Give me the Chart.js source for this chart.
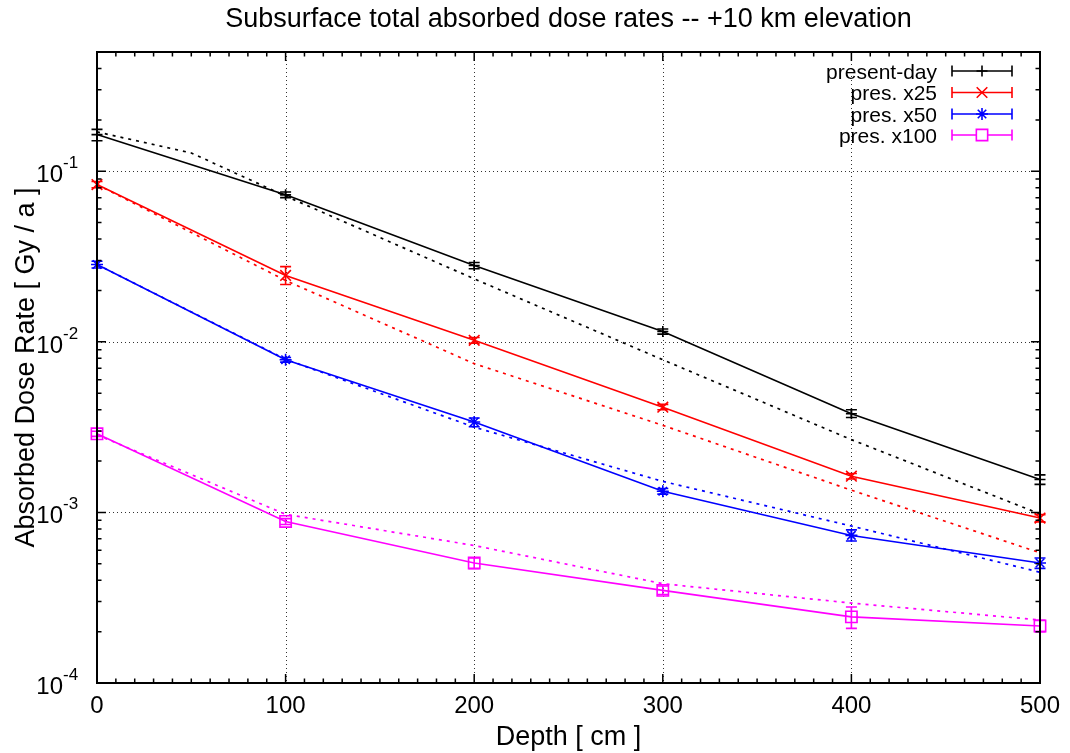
<!DOCTYPE html>
<html><head><meta charset="utf-8">
<script src="https://cdn.jsdelivr.net/npm/chart.js@4/dist/chart.umd.min.js"></script>
<style>html,body{margin:0;padding:0;background:#fff}#wrap{width:1070px;height:753px;position:relative}</style>
</head><body><div id="wrap"><canvas id="c" width="1070" height="753"></canvas></div>
<script>
// ---- data ----
const depths = [0, 100, 200, 300, 400, 500];
const seriesNames = ['present-day', 'pres. x25', 'pres. x50', 'pres. x100'];

const presentDay      = [0.164, 0.0727, 0.0280, 0.0115, 0.00379, 0.00156];
const presentDayLow   = [0.151, 0.0700, 0.0268, 0.0111, 0.00360, 0.00146];
const presentDayHigh  = [0.176, 0.0755, 0.0292, 0.0119, 0.00400, 0.00166];

const pres25      = [0.0836, 0.0245, 0.0102, 0.00414, 0.00163, 0.000927];
const pres25Low   = [0.0800, 0.0217, 0.0098, 0.00400, 0.00157, 0.000880];
const pres25High  = [0.0870, 0.0276, 0.0106, 0.00430, 0.00169, 0.000970];

const pres50      = [0.0284, 0.00785, 0.00339, 0.00133, 0.000733, 0.000505];
const pres50Low   = [0.0271, 0.00760, 0.00318, 0.00128, 0.000680, 0.000470];
const pres50High  = [0.0297, 0.00810, 0.00358, 0.00138, 0.000790, 0.000540];

const pres100     = [0.00289, 0.000885, 0.000505, 0.000349, 0.000244, 0.000216];
const pres100Low  = [0.00279, 0.000850, 0.000470, 0.000330, 0.000209, 0.000200];
const pres100High = [0.00299, 0.000920, 0.000540, 0.000370, 0.000279, 0.000233];

// dotted comparison curves (no legend entry)
const presentDayAltDepths = [0, 50, 100, 200, 300, 400, 500];
const presentDayAlt = [0.170, 0.128, 0.0715, 0.0234, 0.00785, 0.00267, 0.00098];
const pres25Alt  = [0.0836, 0.0229, 0.00745, 0.00324, 0.00135, 0.00058];
const pres50Alt  = [0.0284, 0.0079, 0.00316, 0.00152, 0.000832, 0.000446];
const pres100Alt = [0.00285, 0.000975, 0.00064, 0.000382, 0.000294, 0.000234];

const xMajorTicks = [0, 100, 200, 300, 400, 500];
const yMajorTicks = [1e-4, 1e-3, 1e-2, 1e-1];
const yTickExponents = ['-4', '-3', '-2', '-1'];

// ---- styling ----
const colors = ['#000000', '#ff0000', '#0000ff', '#ff00ff'];
const styles = ['cross', 'crossRot', 'star', 'rect'];
const radii = [5.5, 7.5, 6, 8];
const mains = [presentDay, pres25, pres50, pres100];
const lows = [presentDayLow, pres25Low, pres50Low, pres100Low];
const highs = [presentDayHigh, pres25High, pres50High, pres100High];

function pts(xs, ys) { return xs.map((x, i) => ({ x: x, y: ys[i] })); }

const datasets = [];
const alts = [[presentDayAltDepths, presentDayAlt], [depths, pres25Alt], [depths, pres50Alt], [depths, pres100Alt]];
alts.forEach((a, i) => {
  datasets.push({
    label: seriesNames[i] + ' (alt)', data: pts(a[0], a[1]),
    borderColor: colors[i], borderWidth: 1.7, borderDash: [3, 5],
    pointRadius: 0, fill: false, tension: 0, clip: false
  });
});
mains.forEach((m, i) => {
  datasets.push({
    label: seriesNames[i], data: pts(depths, m),
    borderColor: colors[i], backgroundColor: 'rgba(0,0,0,0)', borderWidth: 1.6,
    pointStyle: styles[i], pointRadius: radii[i], pointBorderColor: colors[i],
    pointBorderWidth: 1.6, pointBackgroundColor: 'rgba(0,0,0,0)',
    fill: false, tension: 0, clip: false, errLow: lows[i], errHigh: highs[i]
  });
});

const FONT = '"Liberation Sans", Arial, Helvetica, sans-serif';

const frame = {
  id: 'frame',
  beforeDatasetsDraw(chart) {
    const { ctx, chartArea: a, scales: { x, y } } = chart;
    ctx.save();
    ctx.strokeStyle = '#333';
    ctx.lineWidth = 1;
    ctx.setLineDash([1, 3]);
    xMajorTicks.forEach(v => {
      if (v <= 0 || v >= 500) return;
      const px = Math.round(x.getPixelForValue(v)) + 0.5;
      ctx.beginPath(); ctx.moveTo(px, a.top); ctx.lineTo(px, a.bottom); ctx.stroke();
    });
    yMajorTicks.forEach(v => {
      if (v <= 1e-4) return;
      const py = Math.round(y.getPixelForValue(v)) + 0.5;
      ctx.beginPath(); ctx.moveTo(a.left, py); ctx.lineTo(a.right, py); ctx.stroke();
    });
    ctx.restore();
  },
  afterDatasetsDraw(chart) {
    const { ctx, chartArea: a, scales: { x, y } } = chart;
    ctx.save();
    // error bars
    chart.data.datasets.forEach(ds => {
      if (!ds.errLow) return;
      ctx.strokeStyle = ds.borderColor; ctx.lineWidth = 1.6; ctx.setLineDash([]);
      ds.data.forEach((p, i) => {
        const px = x.getPixelForValue(p.x);
        const y1 = y.getPixelForValue(ds.errLow[i]);
        const y2 = y.getPixelForValue(ds.errHigh[i]);
        ctx.beginPath();
        ctx.moveTo(px, y1); ctx.lineTo(px, y2);
        ctx.moveTo(px - 5.5, y1); ctx.lineTo(px + 5.5, y1);
        ctx.moveTo(px - 5.5, y2); ctx.lineTo(px + 5.5, y2);
        ctx.stroke();
      });
    });
    // border
    ctx.strokeStyle = '#000'; ctx.lineWidth = 2; ctx.setLineDash([]);
    ctx.strokeRect(a.left, a.top, a.right - a.left, a.bottom - a.top);
    // x ticks
    ctx.lineWidth = 1.5;
    for (let v = 0; v <= 500; v += 10) {
      const px = x.getPixelForValue(v);
      const len = (v % 100 === 0) ? 9 : 4.5;
      ctx.beginPath();
      ctx.moveTo(px, a.bottom); ctx.lineTo(px, a.bottom - len);
      ctx.moveTo(px, a.top); ctx.lineTo(px, a.top + len);
      ctx.stroke();
    }
    // y ticks
    for (let e = -4; e <= -1; e++) {
      for (let m = 1; m <= 9; m++) {
        const v = m * Math.pow(10, e);
        if (v > 0.5 + 1e-9) continue;
        const py = y.getPixelForValue(v);
        const len = m === 1 ? 9 : 4.5;
        ctx.beginPath();
        ctx.moveTo(a.left, py); ctx.lineTo(a.left + len, py);
        ctx.moveTo(a.right, py); ctx.lineTo(a.right - len, py);
        ctx.stroke();
      }
    }
    // tick labels
    ctx.fillStyle = '#000';
    ctx.font = '24px ' + FONT;
    ctx.textAlign = 'center'; ctx.textBaseline = 'alphabetic';
    xMajorTicks.forEach(v => {
      ctx.fillText(String(v), x.getPixelForValue(v), a.bottom + 30);
    });
    yMajorTicks.forEach((v, i) => {
      const py = y.getPixelForValue(v);
      ctx.font = '24px ' + FONT; ctx.textAlign = 'right';
      ctx.fillText('10', 63, py + 11);
      ctx.font = '17px ' + FONT; ctx.textAlign = 'left';
      ctx.fillText(yTickExponents[i], 63, py - 3);
    });
    // titles
    ctx.font = '27px ' + FONT; ctx.textAlign = 'center';
    ctx.fillText('Subsurface total absorbed dose rates -- +10 km elevation', (a.left + a.right) / 2, 27);
    ctx.font = '27px ' + FONT;
    ctx.fillText('Depth [ cm ]', (a.left + a.right) / 2, 745);
    ctx.save();
    ctx.translate(34, (a.top + a.bottom) / 2);
    ctx.rotate(-Math.PI / 2);
    ctx.fillText('Absorbed Dose Rate [ Gy / a ]', 0, 0);
    ctx.restore();
    // legend
    const rows = [71, 92.5, 114, 135];
    seriesNames.forEach((n, i) => {
      const ry = rows[i];
      ctx.font = '21px ' + FONT; ctx.textAlign = 'right'; ctx.fillStyle = '#000';
      ctx.fillText(n, 937, ry + 7.5);
      ctx.strokeStyle = colors[i]; ctx.lineWidth = 1.6;
      ctx.beginPath();
      ctx.moveTo(952, ry); ctx.lineTo(1012, ry);
      ctx.moveTo(952, ry - 5.5); ctx.lineTo(952, ry + 5.5);
      ctx.moveTo(1012, ry - 5.5); ctx.lineTo(1012, ry + 5.5);
      ctx.stroke();
      ctx.fillStyle = '#ffffff';
      Chart.helpers.drawPoint(ctx, { pointStyle: styles[i], radius: radii[i], rotation: 0, borderWidth: 1.6 }, 982, ry);
    });
    ctx.restore();
  }
};

new Chart(document.getElementById('c'), {
  type: 'line',
  data: { datasets: datasets },
  options: {
    responsive: false, animation: false,
    layout: { padding: { left: 89, right: 30, top: 52, bottom: 62 } },
    plugins: { legend: { display: false }, title: { display: false }, tooltip: { enabled: false } },
    scales: {
      x: { type: 'linear', min: 0, max: 500, ticks: { display: false }, grid: { display: false }, border: { display: false } },
      y: { type: 'logarithmic', min: 1e-4, max: 0.5, ticks: { display: false }, grid: { display: false }, border: { display: false } }
    }
  },
  plugins: [frame]
});
</script></body></html>
